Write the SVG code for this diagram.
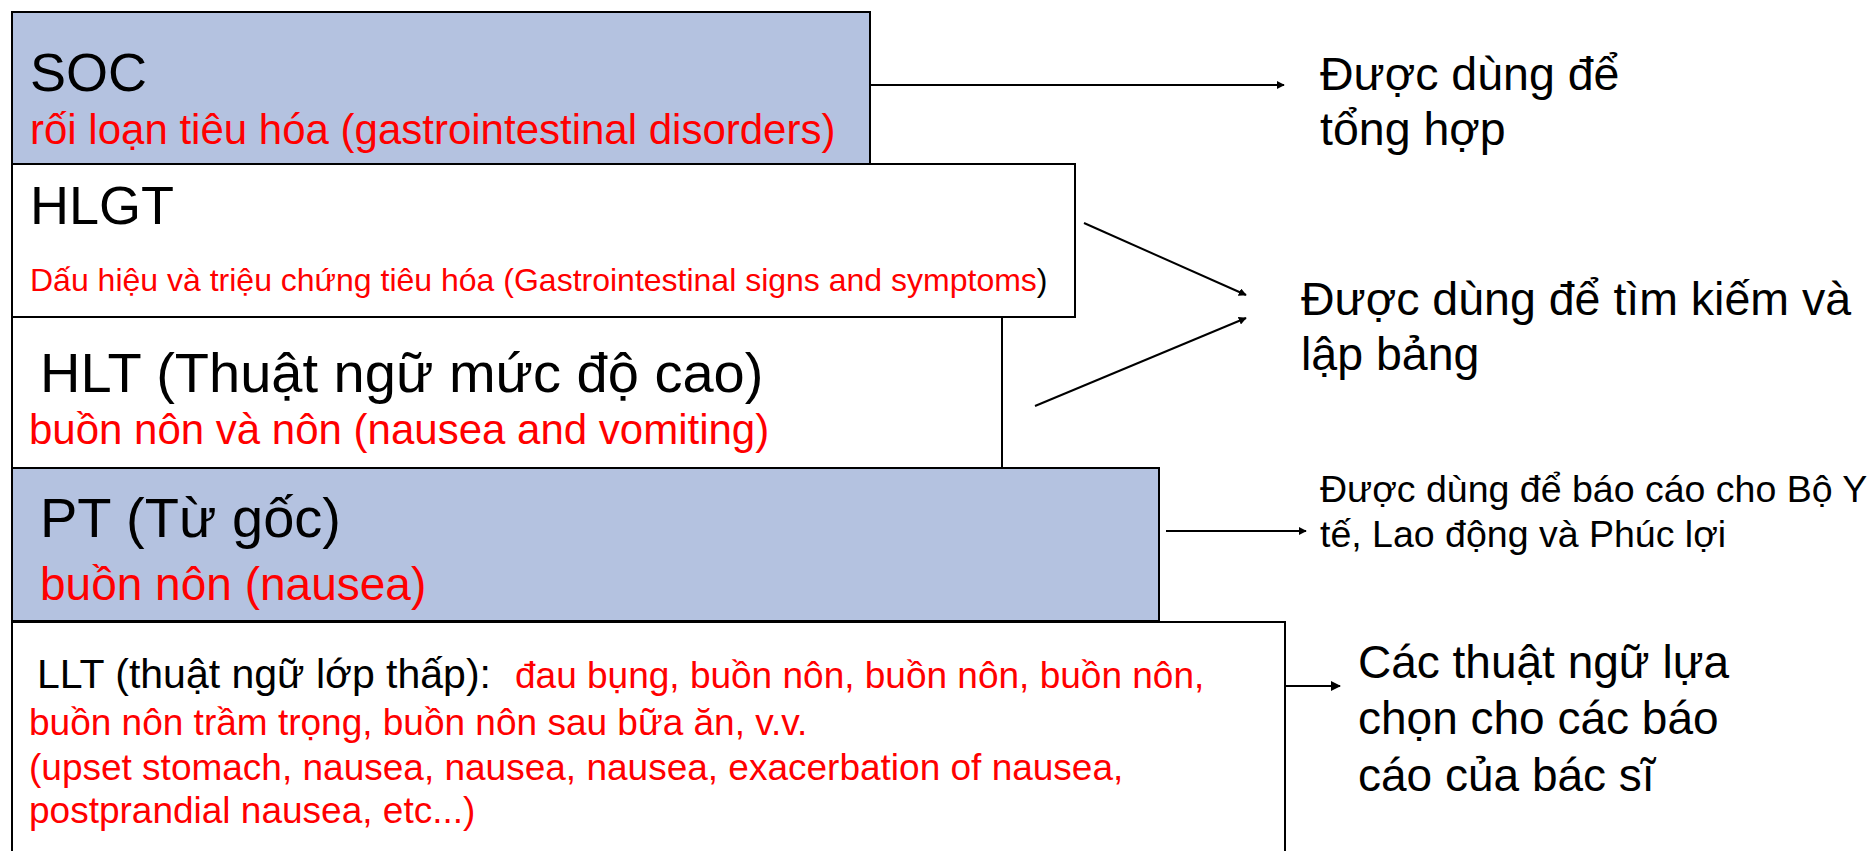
<svg xmlns="http://www.w3.org/2000/svg" width="1870" height="851" viewBox="0 0 1870 851">
<style>
text{font-family:"Liberation Sans",Arial,sans-serif;fill:#000}
.r{fill:#FF0000}
.box{stroke:#000;stroke-width:2}
.blue{fill:#B4C2E0}
.white{fill:#FFFFFF}
.conn{stroke:#000;stroke-width:2;fill:none}
</style>
<defs>
<marker id="ah" viewBox="0 0 10 10" refX="9" refY="5" markerWidth="4" markerHeight="4" orient="auto" markerUnits="strokeWidth">
<path d="M0,0 L10,5 L0,10 Z" fill="#000"/>
</marker>
<marker id="ahb" viewBox="0 0 10 10" refX="9" refY="5" markerWidth="5" markerHeight="5" orient="auto" markerUnits="strokeWidth">
<path d="M0,0 L10,5 L0,10 Z" fill="#000"/>
</marker>
</defs>
<rect width="1870" height="851" fill="#fff"/>
<g id="llt">
<rect class="box white" x="12" y="622" width="1273" height="240"/>
<text x="37" y="688" font-size="41">LLT (thuật ngữ lớp thấp): <tspan class="r" x="515" font-size="37">đau bụng, buồn nôn, buồn nôn, buồn nôn,</tspan></text>
<text class="r" x="29" y="735" font-size="37">buồn nôn trầm trọng, buồn nôn sau bữa ăn, v.v.</text>
<text class="r" x="29" y="780" font-size="37">(upset stomach, nausea, nausea, nausea, exacerbation of nausea,</text>
<text class="r" x="29" y="823" font-size="37">postprandial nausea, etc...)</text>
</g>
<g id="pt">
<rect class="box blue" x="12" y="468" width="1147" height="153"/>
<text x="40" y="537" font-size="56">PT (Từ gốc)</text>
<text class="r" x="40" y="600" font-size="46">buồn nôn (nausea)</text>
</g>
<g id="hlt">
<rect class="box white" x="12" y="317" width="990" height="151"/>
<text x="40" y="392" font-size="56">HLT (Thuật ngữ mức độ cao)</text>
<text class="r" x="29" y="444" font-size="42">buồn nôn và nôn (nausea and vomiting)</text>
</g>
<g id="hlgt">
<rect class="box white" x="12" y="164" width="1063" height="153"/>
<text x="30" y="224" font-size="54">HLGT</text>
<text x="30" y="291" font-size="32"><tspan class="r">Dấu hiệu và triệu chứng tiêu hóa (Gastrointestinal signs and symptoms</tspan>)</text>
</g>
<g id="soc">
<rect class="box blue" x="12" y="12" width="858" height="152"/>
<text x="30" y="91" font-size="54">SOC</text>
<text class="r" x="30" y="144" font-size="42">rối loạn tiêu hóa (gastrointestinal disorders)</text>
</g>
<g id="labels">
<text x="1320" y="90" font-size="46.5">Được dùng để</text>
<text x="1320" y="145" font-size="46.5">tổng hợp</text>
<text x="1301" y="315" font-size="46.5">Được dùng để tìm kiếm và</text>
<text x="1301" y="370" font-size="46.5">lập bảng</text>
<text x="1320" y="502" font-size="37.5">Được dùng để báo cáo cho Bộ Y</text>
<text x="1320" y="547" font-size="37.5">tế, Lao động và Phúc lợi</text>
<text x="1358" y="678" font-size="46">Các thuật ngữ lựa</text>
<text x="1358" y="734" font-size="46">chọn cho các báo</text>
<text x="1358" y="791" font-size="46">cáo của bác sĩ</text>
</g>
<g id="connectors">
<line class="conn" x1="870" y1="85" x2="1284" y2="85" marker-end="url(#ah)"/>
<line class="conn" x1="1084" y1="223" x2="1246" y2="295" marker-end="url(#ah)"/>
<line class="conn" x1="1035" y1="406" x2="1246" y2="318" marker-end="url(#ah)"/>
<line class="conn" x1="1166" y1="531" x2="1306" y2="531" marker-end="url(#ah)"/>
<line class="conn" x1="1286" y1="686" x2="1340" y2="686" stroke-width="3" marker-end="url(#ahb)"/>
</g>
</svg>
